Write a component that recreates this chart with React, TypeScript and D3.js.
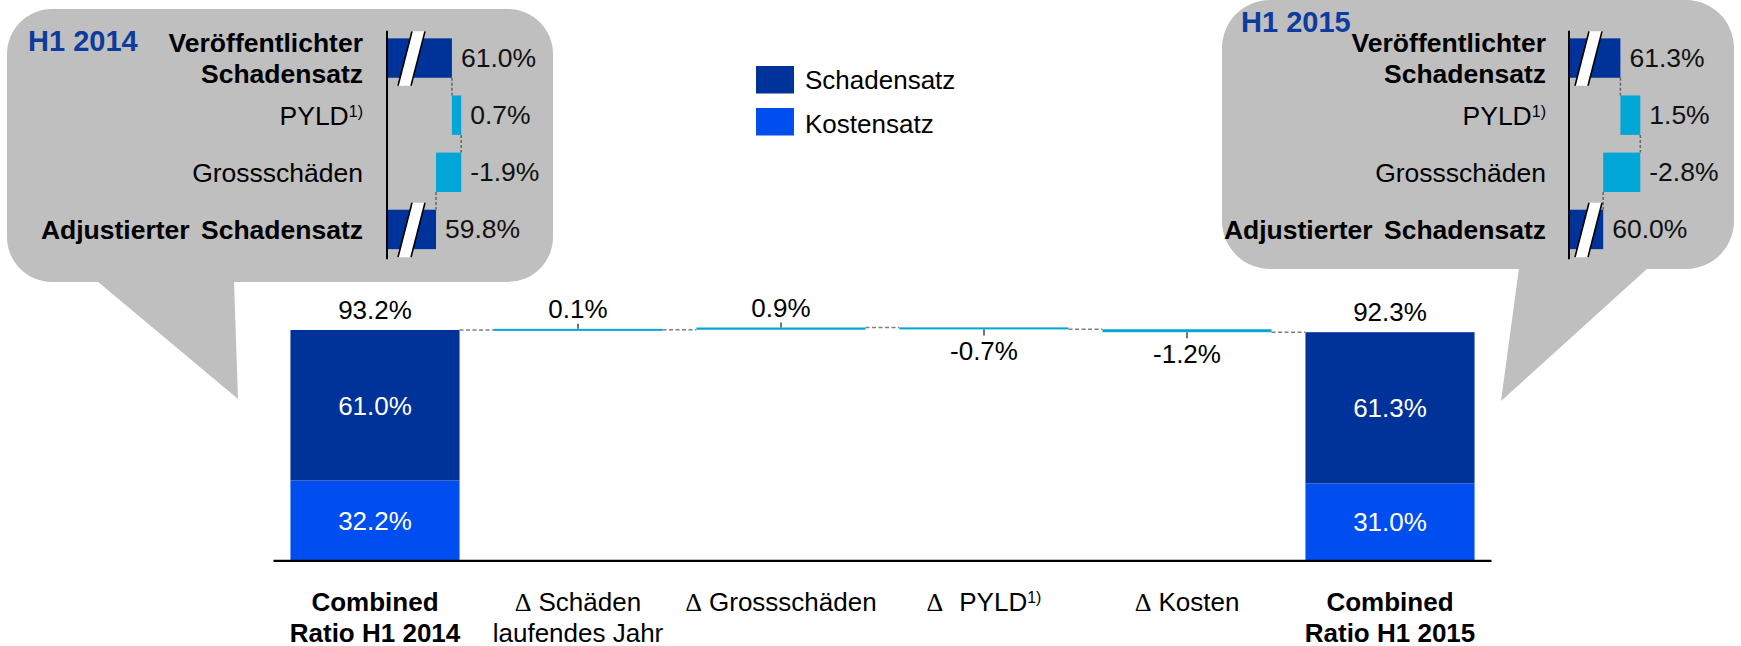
import React from "react";
import * as d3 from "d3";

// ---------- data ----------
const categoryLines: string[][] = [
  ["Combined", "Ratio H1 2014"],
  ["Schäden", "laufendes Jahr"],
  ["Grossschäden"],
  ["PYLD"],
  ["Kosten"],
  ["Combined", "Ratio H1 2015"],
];
const categoryIsDelta = [false, true, true, true, true, false];
const categoryFootnote = ["", "", "", "1)", "", ""];

const schadensatzStart = 61.0;
const kostensatzStart = 32.2;
const schadensatzEnd = 61.3;
const kostensatzEnd = 31.0;
const deltaValues = [0.1, 0.9, -0.7, -1.2];

const legendLabels = ["Schadensatz", "Kostensatz"];

const bubbleRowLabels: string[][] = [
  ["Veröffentlichter", "Schadensatz"],
  ["PYLD"],
  ["Grossschäden"],
  ["Adjustierter Schadensatz"],
];
const bubbleRowFootnote = ["", "1)", "", ""];
const bubbleRowBold = [true, false, false, true];
const bubble2014 = [61.0, 0.7, -1.9, 59.8];
const bubble2015 = [61.3, 1.5, -2.8, 60.0];

// ---------- style ----------
const W = 1741;
const H = 646;
const FONT = "'Liberation Sans', Arial, Helvetica, sans-serif";
const SERIF = "'Liberation Serif', 'Times New Roman', serif";
const DARK = "#003399";
const BRIGHT = "#004EF0";
const CYAN = "#00A6D6";
const BUBBLE = "#BFBFBF";
const TITLE = "#0D3B9E";
const FS = 26;
const BFS = 26.5;

const fmt = (v: number) => v.toFixed(1) + "%";

function Bubble(props: {
  rectX: number; rectY: number; rectW: number; rectH: number; r: number;
  tail: [number, number][];
  title: string; titleX: number; titleY: number;
  labelRight: number; axisX: number; breakStart: number; breakOffset: number;
  values: number[];
}) {
  const { values, axisX } = props;
  const rowY = d3.scaleBand<number>().domain(d3.range(4)).range([29.5, 258]).paddingInner(0.31).paddingOuter(0.155);
  const xs = d3.scaleLinear().domain([props.breakStart, props.breakStart + 10]).range([axisX, axisX + 132.5]);
  const bw = rowY.bandwidth();
  const segs: { from: number; to: number; color: string }[] = [];
  let cum = values[0];
  segs.push({ from: props.breakStart, to: values[0], color: DARK });
  for (let i = 1; i < values.length - 1; i++) {
    segs.push({ from: cum, to: cum + values[i], color: CYAN });
    cum = cum + values[i];
  }
  segs.push({ from: props.breakStart, to: values[values.length - 1], color: DARK });
  const levels = [values[0], values[0] + values[1], values[0] + values[1] + values[2]];

  return (
    <g>
      <rect x={props.rectX} y={props.rectY} width={props.rectW} height={props.rectH} rx={props.r} ry={props.r} fill={BUBBLE} />
      <polygon points={props.tail.map((p) => p.join(",")).join(" ")} fill={BUBBLE} />
      <text x={props.titleX} y={props.titleY} fontFamily={FONT} fontWeight="bold" fontSize={29} fill={TITLE}>{props.title}</text>
      {segs.map((s, i) => {
        const x0 = xs(Math.min(s.from, s.to));
        const x1 = xs(Math.max(s.from, s.to));
        const top = rowY(i)!;
        const cy = top + bw / 2;
        return (
          <g key={"s" + i}>
            <rect x={x0} y={top} width={x1 - x0} height={bw} fill={s.color} />
            <text x={x1 + 9} y={cy + 9} fontFamily={FONT} fontSize={BFS} fill="#111">{fmt(values[i])}</text>
          </g>
        );
      })}
      {levels.map((lv, i) => (
        <line key={"c" + i} x1={xs(lv)} x2={xs(lv)} y1={rowY(i)! + bw} y2={rowY(i + 1)!}
          stroke="#666" strokeWidth={1.5} strokeDasharray="3,2" />
      ))}
      {[0, 3].map((r) => {
        const top = rowY(r)! - 7;
        const bot = rowY(r)! + bw + 8;
        const o = axisX + props.breakOffset;
        const s = 14, w = 13;
        return (
          <g key={"b" + r}>
            <polygon points={`${o},${bot} ${o + w},${bot} ${o + w + s},${top} ${o + s},${top}`} fill="#fff" />
            <line x1={o} y1={bot} x2={o + s} y2={top} stroke="#000" strokeWidth={1.6} />
            <line x1={o + w} y1={bot} x2={o + w + s} y2={top} stroke="#000" strokeWidth={1.6} />
          </g>
        );
      })}
      <line x1={axisX} x2={axisX} y1={30.7} y2={259.3} stroke="#000" strokeWidth={2} />
      {bubbleRowLabels.map((lines, i) => {
        const cy = rowY(i)! + bw / 2;
        if (lines.length === 2) {
          return (
            <text key={"l" + i} textAnchor="end" fontFamily={FONT} fontSize={BFS} fontWeight={bubbleRowBold[i] ? "bold" : "normal"} fill="#000">
              <tspan x={props.labelRight} y={cy - 6}>{lines[0]}</tspan>
              <tspan x={props.labelRight} y={cy + 25}>{lines[1]}</tspan>
            </text>
          );
        }
        return (
          <text key={"l" + i} x={props.labelRight} y={cy + 10} textAnchor="end" fontFamily={FONT} fontSize={BFS}
            fontWeight={bubbleRowBold[i] ? "bold" : "normal"} wordSpacing={bubbleRowBold[i] ? 4 : 0} fill="#000">
            {lines[0]}
            {bubbleRowFootnote[i] ? <tspan fontSize={16} dy={-8}>{bubbleRowFootnote[i]}</tspan> : null}
          </text>
        );
      })}
    </g>
  );
}

export default function App() {
  const n = categoryLines.length;
  const x = d3.scaleBand<number>().domain(d3.range(n)).range([273.5, 1491.5]).paddingInner(0.167).paddingOuter(0.0835);
  const y = d3.scaleLinear().domain([0, 100]).range([560, 313.2]);
  const bw = x.bandwidth();

  const startTotal = +(schadensatzStart + kostensatzStart).toFixed(1);
  const endTotal = +(schadensatzEnd + kostensatzEnd).toFixed(1);
  let cum = startTotal;
  const steps = deltaValues.map((d, i) => {
    const from = cum;
    cum = +(cum + d).toFixed(1);
    return { idx: i + 1, from, to: cum, d };
  });
  const levels = [startTotal, ...steps.map((s) => s.to)];

  const totals = [
    { idx: 0, schaden: schadensatzStart, kosten: kostensatzStart, total: startTotal },
    { idx: n - 1, schaden: schadensatzEnd, kosten: kostensatzEnd, total: endTotal },
  ];

  return (
    <svg width={W} height={H} style={{ position: "absolute", left: 0, top: 0, background: "#fff" }}>
      <Bubble rectX={7} rectY={9} rectW={546} rectH={273} r={45}
        tail={[[97, 281], [234, 281], [238, 399]]}
        title="H1 2014" titleX={28} titleY={51}
        labelRight={363} axisX={387} breakStart={56.1} breakOffset={11}
        values={bubble2014} />
      <Bubble rectX={1222} rectY={0} rectW={512} rectH={269} r={48}
        tail={[[1519, 268], [1648, 268], [1501, 401]]}
        title="H1 2015" titleX={1241} titleY={32}
        labelRight={1546} axisX={1569} breakStart={57.42} breakOffset={6}
        values={bubble2015} />

      {legendLabels.map((l, i) => (
        <g key={l}>
          <rect x={756} y={66 + i * 42} width={38} height={27.5} fill={i === 0 ? DARK : BRIGHT} />
          <text x={805} y={89 + i * 43.5} fontFamily={FONT} fontSize={FS} fill="#000">{l}</text>
        </g>
      ))}

      {totals.map((t) => {
        const x0 = x(t.idx)!;
        const cx = x0 + bw / 2;
        return (
          <g key={"t" + t.idx}>
            <rect x={x0} y={y(t.kosten)} width={bw} height={y(0) - y(t.kosten)} fill={BRIGHT} />
            <rect x={x0} y={y(t.total)} width={bw} height={y(t.kosten) - y(t.total)} fill={DARK} />
            <text x={cx} y={(y(t.total) + y(t.kosten)) / 2 + 9.5} textAnchor="middle" fontFamily={FONT} fontSize={FS} fill="#fff">{fmt(t.schaden)}</text>
            <text x={cx} y={(y(t.kosten) + y(0)) / 2 + 9.5} textAnchor="middle" fontFamily={FONT} fontSize={FS} fill="#fff">{fmt(t.kosten)}</text>
            <text x={cx} y={y(t.total) - 11} textAnchor="middle" fontFamily={FONT} fontSize={FS} fill="#000">{fmt(t.total)}</text>
          </g>
        );
      })}

      {steps.map((s) => {
        const x0 = x(s.idx)!;
        const cx = x0 + bw / 2;
        const ya = y(s.from), yb = y(s.to);
        const h = Math.max(2, Math.abs(ya - yb));
        const top = (ya + yb) / 2 - h / 2;
        const pos = s.d >= 0;
        return (
          <g key={"d" + s.idx}>
            <rect x={x0} y={top} width={bw} height={h} fill={CYAN} />
            {pos ? (
              <line x1={cx} x2={cx} y1={top - 5} y2={top} stroke="#444" strokeWidth={1.5} />
            ) : (
              <line x1={cx} x2={cx} y1={top + h} y2={top + h + 6} stroke="#444" strokeWidth={1.5} />
            )}
            <text x={cx} y={pos ? top - 11 : top + h + 31} textAnchor="middle" fontFamily={FONT} fontSize={FS} fill="#000">{fmt(s.d)}</text>
          </g>
        );
      })}

      {levels.map((lv, i) => (
        <line key={"c" + i} x1={x(i)! + bw} x2={x(i + 1)!} y1={y(lv)} y2={y(lv)}
          stroke="#808080" strokeWidth={1.6} strokeDasharray="4,2.5" />
      ))}

      <line x1={x.range()[0]} x2={x.range()[1]} y1={560.8} y2={560.8} stroke="#000" strokeWidth={2.2} />

      {categoryLines.map((lines, i) => {
        const cx = x(i)! + bw / 2;
        const bold = !categoryIsDelta[i];
        return (
          <text key={"cat" + i} textAnchor="middle" fontFamily={FONT} fontSize={FS} fontWeight={bold ? "bold" : "normal"} fill="#000">
            <tspan x={cx} y={611}>
              {categoryIsDelta[i] ? <tspan fontFamily={SERIF}>Δ</tspan> : null}
              {categoryIsDelta[i] ? <tspan dx={categoryFootnote[i] ? 16 : 7}>{lines[0]}</tspan> : lines[0]}
              {categoryFootnote[i] ? <tspan fontSize={16} dy={-8}>{categoryFootnote[i]}</tspan> : null}
            </tspan>
            {lines[1] ? <tspan x={cx} y={641.5}>{lines[1]}</tspan> : null}
          </text>
        );
      })}
    </svg>
  );
}
